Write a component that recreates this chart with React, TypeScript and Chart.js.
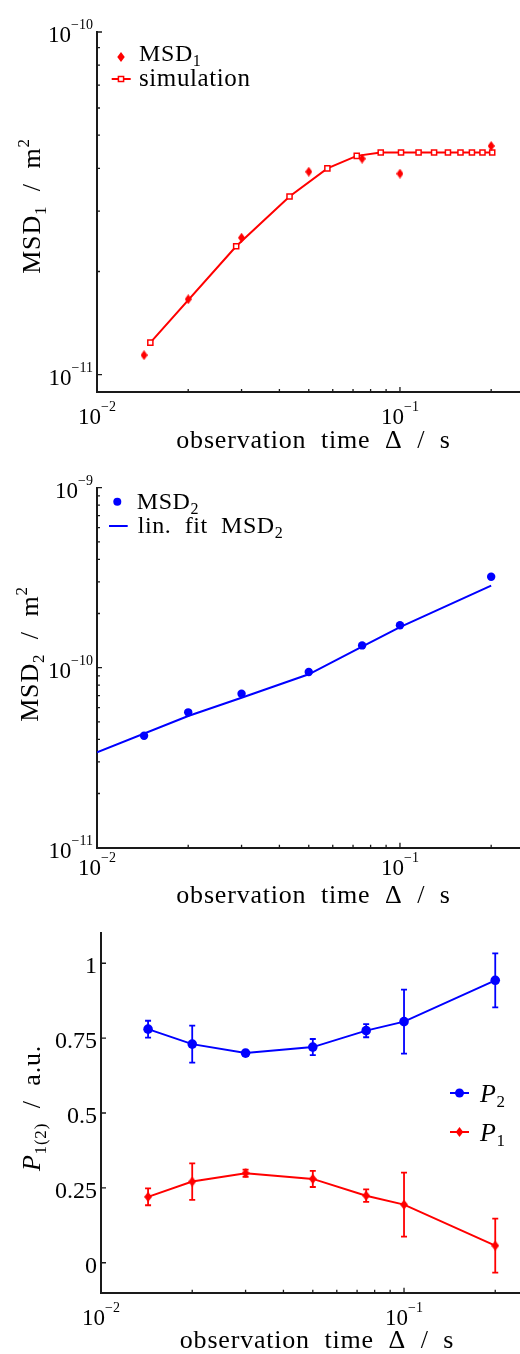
import React, { useEffect, useRef } from 'react';
import { Chart, registerables } from 'chart.js';
Chart.register(...registerables);

const SERIF = '"Liberation Serif", "DejaVu Serif", serif';
const RED = '#ff0000';
const BLUE = '#0000ff';
const AXIS = '#1a1a1a';

// ---------- shared x axis ----------
const xMajorTicks = [0.01, 0.1];
const xMajorExp = ['\u22122', '\u22121'];
const xMinorTicks = [0.02, 0.03, 0.04, 0.05, 0.06, 0.07, 0.08, 0.09, 0.2];
const xTitleText = 'observation  time  \u0394  /  s';

// ---------- panel 1 ----------
const msd1Time = [0.0143, 0.02, 0.03, 0.05, 0.075, 0.1, 0.2];
const msd1Values = [1.14e-11, 1.66e-11, 2.51e-11, 3.91e-11, 4.27e-11, 3.86e-11, 4.65e-11];
const simTime = [0.015, 0.0288, 0.0432, 0.0576, 0.072, 0.0864, 0.1008, 0.1152, 0.1296, 0.144, 0.1584, 0.1728, 0.1872, 0.2016];
const simValues = [1.24e-11, 2.37e-11, 3.31e-11, 4.0e-11, 4.35e-11, 4.45e-11, 4.45e-11, 4.45e-11, 4.45e-11, 4.45e-11, 4.45e-11, 4.45e-11, 4.45e-11, 4.45e-11];
const p1YMajor = [1e-11, 1e-10];
const p1YExp = ['\u221211', '\u221210'];
const p1YMinor = [2e-11, 3e-11, 4e-11, 5e-11, 6e-11, 7e-11, 8e-11, 9e-11];

// ---------- panel 2 ----------
const msd2Time = [0.0143, 0.02, 0.03, 0.05, 0.075, 0.1, 0.2];
const msd2Values = [4.19e-11, 5.65e-11, 7.17e-11, 9.46e-11, 1.33e-10, 1.72e-10, 3.2e-10];
const fitTime = [0.01, 0.02, 0.03, 0.05, 0.075, 0.1, 0.2];
const fitValues = [3.39e-11, 5.39e-11, 6.81e-11, 9.19e-11, 1.31e-10, 1.68e-10, 2.86e-10];
const p2YMajor = [1e-11, 1e-10, 1e-9];
const p2YExp = ['\u221211', '\u221210', '\u22129'];
const p2YMinor = [2e-11, 3e-11, 4e-11, 5e-11, 6e-11, 7e-11, 8e-11, 9e-11, 2e-10, 3e-10, 4e-10, 5e-10, 6e-10, 7e-10, 8e-10, 9e-10];

// ---------- panel 3 ----------
const pTime = [0.0143, 0.02, 0.03, 0.05, 0.075, 0.1, 0.2];
const p2Values = [0.78, 0.73, 0.7, 0.72, 0.775, 0.805, 0.943];
const p2Err = [0.028, 0.062, 0.008, 0.027, 0.022, 0.107, 0.09];
const p1Values = [0.22, 0.271, 0.299, 0.28, 0.224, 0.194, 0.057];
const p1Err = [0.028, 0.061, 0.012, 0.027, 0.021, 0.107, 0.09];
const p3YTicks = [0, 0.25, 0.5, 0.75, 1];
const p3YLabels = ['0', '0.25', '0.5', '0.75', '1'];

type Seg = { t: string; size: number; italic?: boolean; dy?: number };

function fontStr(size: number, italic?: boolean) {
  return `${italic ? 'italic ' : ''}${size}px ${SERIF}`;
}

function drawRich(
  ctx: CanvasRenderingContext2D,
  segs: Seg[],
  x: number,
  y: number,
  align: 'left' | 'center' | 'right',
  spacing = 0
) {
  const anyCtx = ctx as any;
  const prevLs = anyCtx.letterSpacing;
  anyCtx.letterSpacing = `${spacing}px`;
  ctx.textBaseline = 'alphabetic';
  ctx.textAlign = 'left';
  let w = 0;
  const widths = segs.map((s) => {
    ctx.font = fontStr(s.size, s.italic);
    const m = ctx.measureText(s.t).width;
    w += m;
    return m;
  });
  let cx = align === 'left' ? x : align === 'center' ? x - w / 2 : x - w;
  segs.forEach((s, i) => {
    ctx.font = fontStr(s.size, s.italic);
    ctx.fillText(s.t, cx, y + (s.dy || 0));
    cx += widths[i];
  });
  anyCtx.letterSpacing = prevLs || '0px';
}

function makeDiamond(color: string, w: number, h: number) {
  const c = document.createElement('canvas');
  c.width = w;
  c.height = h;
  const g = c.getContext('2d')!;
  g.fillStyle = color;
  g.beginPath();
  g.moveTo(w / 2, 0);
  g.lineTo(w, h / 2);
  g.lineTo(w / 2, h);
  g.lineTo(0, h / 2);
  g.closePath();
  g.fill();
  return c;
}

type LegendItem = {
  marker: 'diamond' | 'square' | 'circle' | 'none';
  color: string;
  mx: number;
  my: number;
  r: number;
  line?: [number, number];
  text: Seg[];
  tx: number;
  ty: number;
};

type Deco = {
  xLabelDy: number;
  yMajor: number[];
  yMinor: number[];
  yLabels: Seg[][];
  xTitle: { x: number; y: number };
  yTitle: { segs: Seg[]; x: number; y: number };
  legend: LegendItem[];
  errors?: { x: number[]; y: number[]; e: number[]; color: string }[];
};

function drawMarker(ctx: CanvasRenderingContext2D, it: LegendItem) {
  ctx.save();
  ctx.fillStyle = it.color;
  ctx.strokeStyle = it.color;
  if (it.line) {
    ctx.lineWidth = 2;
    ctx.beginPath();
    ctx.moveTo(it.line[0], it.my);
    ctx.lineTo(it.line[1], it.my);
    ctx.stroke();
  }
  ctx.beginPath();
  if (it.marker === 'circle') {
    ctx.arc(it.mx, it.my, it.r, 0, Math.PI * 2);
    ctx.fill();
  } else if (it.marker === 'diamond') {
    ctx.moveTo(it.mx, it.my - it.r);
    ctx.lineTo(it.mx + it.r * 0.75, it.my);
    ctx.lineTo(it.mx, it.my + it.r);
    ctx.lineTo(it.mx - it.r * 0.75, it.my);
    ctx.closePath();
    ctx.fill();
  } else if (it.marker === 'square') {
    ctx.fillStyle = '#fff';
    ctx.lineWidth = 1.5;
    ctx.rect(it.mx - it.r, it.my - it.r, it.r * 2, it.r * 2);
    ctx.fill();
    ctx.stroke();
  }
  ctx.restore();
}

function decoPlugin(d: Deco) {
  return {
    id: 'deco',
    beforeDatasetsDraw(chart: any) {
      if (!d.errors) return;
      const ctx: CanvasRenderingContext2D = chart.ctx;
      const xs = chart.scales.x;
      const ys = chart.scales.y;
      d.errors.forEach((eb) => {
        ctx.save();
        ctx.strokeStyle = eb.color;
        ctx.lineWidth = 1.8;
        eb.x.forEach((xv, i) => {
          const px = xs.getPixelForValue(xv);
          const y1 = ys.getPixelForValue(eb.y[i] + eb.e[i]);
          const y2 = ys.getPixelForValue(eb.y[i] - eb.e[i]);
          ctx.beginPath();
          ctx.moveTo(px, y1);
          ctx.lineTo(px, y2);
          ctx.moveTo(px - 3, y1);
          ctx.lineTo(px + 3, y1);
          ctx.moveTo(px - 3, y2);
          ctx.lineTo(px + 3, y2);
          ctx.stroke();
        });
        ctx.restore();
      });
    },
    afterDraw(chart: any) {
      const ctx: CanvasRenderingContext2D = chart.ctx;
      const { left, bottom } = chart.chartArea;
      const xs = chart.scales.x;
      const ys = chart.scales.y;
      ctx.save();
      ctx.strokeStyle = AXIS;
      ctx.lineWidth = 1.3;
      ctx.beginPath();
      xMajorTicks.forEach((v) => {
        const px = xs.getPixelForValue(v);
        ctx.moveTo(px, bottom);
        ctx.lineTo(px, bottom - 5);
      });
      xMinorTicks.forEach((v) => {
        const px = xs.getPixelForValue(v);
        ctx.moveTo(px, bottom);
        ctx.lineTo(px, bottom - 3);
      });
      d.yMajor.forEach((v) => {
        const py = ys.getPixelForValue(v);
        ctx.moveTo(left, py);
        ctx.lineTo(left + 5, py);
      });
      d.yMinor.forEach((v) => {
        const py = ys.getPixelForValue(v);
        ctx.moveTo(left, py);
        ctx.lineTo(left + 3, py);
      });
      ctx.stroke();

      ctx.fillStyle = '#000';
      xMajorTicks.forEach((v, i) => {
        drawRich(ctx, [{ t: '10', size: 23 }, { t: xMajorExp[i], size: 14, dy: -13 }], xs.getPixelForValue(v), bottom + d.xLabelDy, 'center');
      });
      d.yMajor.forEach((v, i) => {
        drawRich(ctx, d.yLabels[i], left - 4, ys.getPixelForValue(v) + 10, 'right');
      });

      drawRich(ctx, [{ t: xTitleText, size: 26 }], d.xTitle.x, d.xTitle.y, 'center', 0.8);

      ctx.save();
      ctx.translate(d.yTitle.x, d.yTitle.y);
      ctx.rotate(-Math.PI / 2);
      drawRich(ctx, d.yTitle.segs, 0, 0, 'center', 0.8);
      ctx.restore();

      d.legend.forEach((it) => {
        drawMarker(ctx, it);
        ctx.fillStyle = '#000';
        drawRich(ctx, it.text, it.tx, it.ty, 'left', 0.6);
      });
      ctx.restore();
    },
  };
}

function axisOpts(min: number, max: number, type: 'logarithmic' | 'linear', fit: (s: any) => void) {
  return {
    type,
    min,
    max,
    ticks: { display: false },
    grid: { display: false, drawTicks: false },
    border: { display: true, color: AXIS, width: 2 },
    afterFit: fit,
  };
}

const logExpLabels = (exps: string[]): Seg[][] => exps.map((e) => [{ t: '10', size: 23 }, { t: e, size: 14, dy: -13 }]);

function baseOptions(padTop: number, x: any, y: any) {
  return {
    animation: false,
    responsive: false,
    maintainAspectRatio: false,
    events: [],
    layout: { autoPadding: false, padding: { top: padTop, left: 0, right: 0, bottom: 0 } },
    plugins: { legend: { display: false }, tooltip: { enabled: false } },
    scales: { x, y },
  } as any;
}

function buildPanel1(canvas: HTMLCanvasElement) {
  const diamond = makeDiamond(RED, 7, 10);
  return new Chart(canvas, {
    type: 'scatter',
    data: {
      datasets: [
        {
          label: 'MSD1',
          data: msd1Time.map((x, i) => ({ x, y: msd1Values[i] })),
          showLine: false,
          pointStyle: diamond as any,
          pointRadius: 5,
          backgroundColor: RED,
          borderColor: RED,
        },
        {
          label: 'simulation',
          data: simTime.map((x, i) => ({ x, y: simValues[i] })),
          showLine: true,
          borderColor: RED,
          borderWidth: 2,
          pointStyle: 'rect',
          pointRadius: 3.6,
          pointBorderWidth: 1.5,
          pointBackgroundColor: '#fff',
          pointBorderColor: RED,
        },
      ],
    },
    options: baseOptions(
      32,
      axisOpts(0.01, 0.249, 'logarithmic', (s) => { s.height = 63; }),
      axisOpts(8.9e-12, 1e-10, 'logarithmic', (s) => { s.width = 97; })
    ),
    plugins: [
      decoPlugin({
        xLabelDy: 31.5,
        yMajor: p1YMajor,
        yMinor: p1YMinor,
        yLabels: logExpLabels(p1YExp),
        xTitle: { x: 313.5, y: 447.5 },
        yTitle: {
          segs: [
            { t: 'MSD', size: 26 },
            { t: '1', size: 17, dy: 6 },
            { t: '  /  m', size: 26 },
            { t: '2', size: 17, dy: -11 },
          ],
          x: 40,
          y: 206,
        },
        legend: [
          { marker: 'diamond', color: RED, mx: 121, my: 57, r: 5, text: [{ t: 'MSD', size: 24 }, { t: '1', size: 16, dy: 5 }], tx: 139, ty: 61 },
          { marker: 'square', color: RED, mx: 121, my: 79, r: 2.6, line: [111.7, 130.7], text: [{ t: 'simulation', size: 25 }], tx: 139, ty: 86 },
        ],
      }) as any,
    ],
  });
}

function buildPanel2(canvas: HTMLCanvasElement) {
  return new Chart(canvas, {
    type: 'scatter',
    data: {
      datasets: [
        {
          label: 'MSD2',
          data: msd2Time.map((x, i) => ({ x, y: msd2Values[i] })),
          showLine: false,
          pointStyle: 'circle',
          pointRadius: 4.2,
          backgroundColor: BLUE,
          borderColor: BLUE,
          pointBorderWidth: 0,
        },
        {
          label: 'lin. fit MSD2',
          data: fitTime.map((x, i) => ({ x, y: fitValues[i] })),
          showLine: true,
          borderColor: BLUE,
          borderWidth: 2,
          pointRadius: 0,
        },
      ],
    },
    options: baseOptions(
      32.7,
      axisOpts(0.01, 0.249, 'logarithmic', (s) => { s.height = 62.3; }),
      axisOpts(1e-11, 1e-9, 'logarithmic', (s) => { s.width = 97; })
    ),
    plugins: [
      decoPlugin({
        xLabelDy: 27.3,
        yMajor: p2YMajor,
        yMinor: p2YMinor,
        yLabels: logExpLabels(p2YExp),
        xTitle: { x: 313.5, y: 448.3 },
        yTitle: {
          segs: [
            { t: 'MSD', size: 26 },
            { t: '2', size: 17, dy: 6 },
            { t: '  /  m', size: 26 },
            { t: '2', size: 17, dy: -11 },
          ],
          x: 37.5,
          y: 199,
        },
        legend: [
          { marker: 'circle', color: BLUE, mx: 117.3, my: 46.7, r: 4, text: [{ t: 'MSD', size: 24 }, { t: '2', size: 16, dy: 5 }], tx: 136.7, ty: 54 },
          { marker: 'none', color: BLUE, mx: 118, my: 71, r: 0, line: [109, 127.7], text: [{ t: 'lin.  fit  MSD', size: 24 }, { t: '2', size: 16, dy: 5 }], tx: 137.7, ty: 78.3 },
        ],
      }) as any,
    ],
  });
}

function buildPanel3(canvas: HTMLCanvasElement) {
  const diamond = makeDiamond(RED, 8, 10);
  return new Chart(canvas, {
    type: 'scatter',
    data: {
      datasets: [
        {
          label: 'P2',
          data: pTime.map((x, i) => ({ x, y: p2Values[i] })),
          showLine: true,
          borderColor: BLUE,
          borderWidth: 2,
          pointStyle: 'circle',
          pointRadius: 4.8,
          pointBackgroundColor: BLUE,
          pointBorderColor: BLUE,
          pointBorderWidth: 0,
        },
        {
          label: 'P1',
          data: pTime.map((x, i) => ({ x, y: p1Values[i] })),
          showLine: true,
          borderColor: RED,
          borderWidth: 2,
          pointStyle: diamond as any,
          pointRadius: 5,
          pointBackgroundColor: RED,
          pointBorderColor: RED,
        },
      ],
    },
    options: baseOptions(
      23.3,
      axisOpts(0.01, 0.2414, 'logarithmic', (s) => { s.height = 61.3; }),
      axisOpts(-0.1, 1.1, 'linear', (s) => { s.width = 101; })
    ),
    plugins: [
      decoPlugin({
        xLabelDy: 32.3,
        yMajor: p3YTicks,
        yMinor: [],
        yLabels: p3YLabels.map((l) => [{ t: l, size: 24 }]),
        xTitle: { x: 317, y: 438.3 },
        yTitle: {
          segs: [
            { t: 'P', size: 26, italic: true },
            { t: '1(2)', size: 17, dy: 6 },
            { t: '  /  a.u.', size: 26 },
          ],
          x: 40,
          y: 198,
        },
        legend: [
          { marker: 'circle', color: BLUE, mx: 459.5, my: 183, r: 4.5, line: [450, 469], text: [{ t: 'P', size: 26, italic: true }, { t: '2', size: 17, dy: 5 }], tx: 480, ty: 192 },
          { marker: 'diamond', color: RED, mx: 459.5, my: 222, r: 5, line: [450, 469], text: [{ t: 'P', size: 26, italic: true }, { t: '1', size: 17, dy: 5 }], tx: 480, ty: 231 },
        ],
        errors: [
          { x: pTime, y: p2Values, e: p2Err, color: BLUE },
          { x: pTime, y: p1Values, e: p1Err, color: RED },
        ],
      }) as any,
    ],
  });
}

function Panel({ top, height, build }: { top: number; height: number; build: (c: HTMLCanvasElement) => Chart }) {
  const ref = useRef<HTMLCanvasElement>(null);
  useEffect(() => {
    const chart = build(ref.current!);
    return () => chart.destroy();
  }, []);
  return (
    <canvas
      ref={ref}
      width={520}
      height={height}
      style={{ position: 'absolute', left: 0, top, width: 520, height, display: 'block' }}
    />
  );
}

export default function App() {
  return (
    <div style={{ position: 'absolute', left: 0, top: 0, width: 520, height: 1354, background: '#ffffff', overflow: 'hidden' }}>
      <Panel top={0} height={455} build={buildPanel1} />
      <Panel top={455} height={455} build={buildPanel2} />
      <Panel top={910} height={444} build={buildPanel3} />
    </div>
  );
}
